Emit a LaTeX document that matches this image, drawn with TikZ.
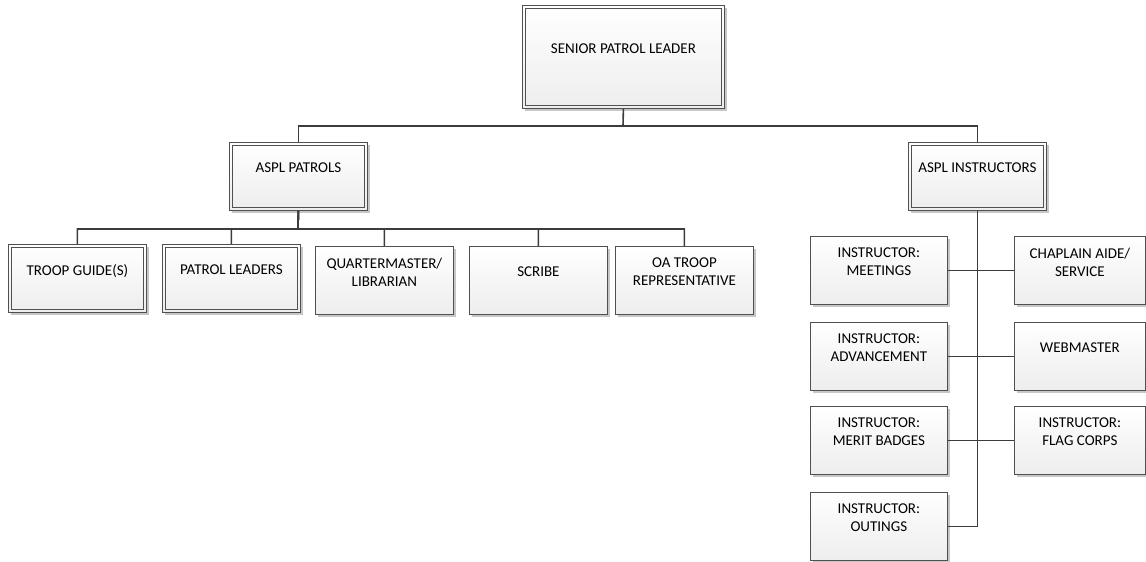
\documentclass[tikz,border=0pt]{standalone}
\usepackage{fontspec}
\setmainfont{Carlito}
\usetikzlibrary{shadows}
\definecolor{linegray}{HTML}{3C3C3C}
\definecolor{boxgray}{HTML}{505050}
\begin{document}
\begin{tikzpicture}[x=1pt,y=-1pt,
    box/.style={draw=boxgray, line width=0.8pt, anchor=north west,
      minimum width=138, minimum height=68, align=center, text depth=17pt,
      top color=white, bottom color=black!7, inner sep=2pt,
      font=\fontsize{15}{18}\selectfont,
      drop shadow={shadow xshift=3pt, shadow yshift=-3pt, fill=black!22, opacity=1}},
    inner frame/.style={draw=boxgray, line width=0.8pt},
    conn/.style={draw=linegray, line width=1.6pt}]
  \useasboundingbox (0,0) rectangle (1146,562);

  % top levels
  \node[box, minimum width=202, minimum height=103] (spl) at (522,5) {SENIOR PATROL LEADER};
  \node[box] (patrols) at (229,142) {ASPL PATROLS};
  \node[box] (instr) at (908,142) {ASPL INSTRUCTORS};

  % patrol side
  \node[box] (troop) at (8,244) {TROOP GUIDE(S)};
  \node[box] (leaders) at (162,244) {PATROL LEADERS};
  \node[box] (qm) at (315,246) {QUARTERMASTER/\\LIBRARIAN};
  \node[box] (scribe) at (469,246) {SCRIBE};
  \node[box] (oa) at (615,246) {OA TROOP\\REPRESENTATIVE};

  % instructor side
  \node[box, minimum width=137] (meetings) at (810,236) {INSTRUCTOR:\\MEETINGS};
  \node[box, minimum width=137] (advance) at (810,322) {INSTRUCTOR:\\ADVANCEMENT};
  \node[box, minimum width=137] (merit) at (810,406) {INSTRUCTOR:\\MERIT BADGES};
  \node[box, minimum width=137] (outings) at (810,492) {INSTRUCTOR:\\OUTINGS};
  \node[box, minimum width=131] (chaplain) at (1014,236) {CHAPLAIN AIDE/\\SERVICE};
  \node[box, minimum width=131] (webmaster) at (1014,322) {WEBMASTER};
  \node[box, minimum width=131] (flag) at (1014,406) {INSTRUCTOR:\\FLAG CORPS};

  % double frames
  \foreach \n in {spl,patrols,instr,troop,leaders}
    \draw[inner frame] ([shift={(3pt,-3pt)}]\n.north west) rectangle ([shift={(-3pt,3pt)}]\n.south east);

  \coordinate (topbus) at (623,126);
  \coordinate (patbus) at (298,229);

  \draw[conn] (spl.south) -- (topbus);
  \draw[conn] (patrols.north) |- (topbus) -| (instr.north);
  \foreach \n in {troop,leaders,qm,scribe,oa}
    \draw[conn] (patrols.south) -- (patbus) -| (\n.north);
  \draw[conn] (instr.south) |- (outings.east);
  \foreach \l/\r in {meetings/chaplain, advance/webmaster, merit/flag}
    \draw[conn] (\l.east) -- (\r.west);
\end{tikzpicture}
\end{document}
